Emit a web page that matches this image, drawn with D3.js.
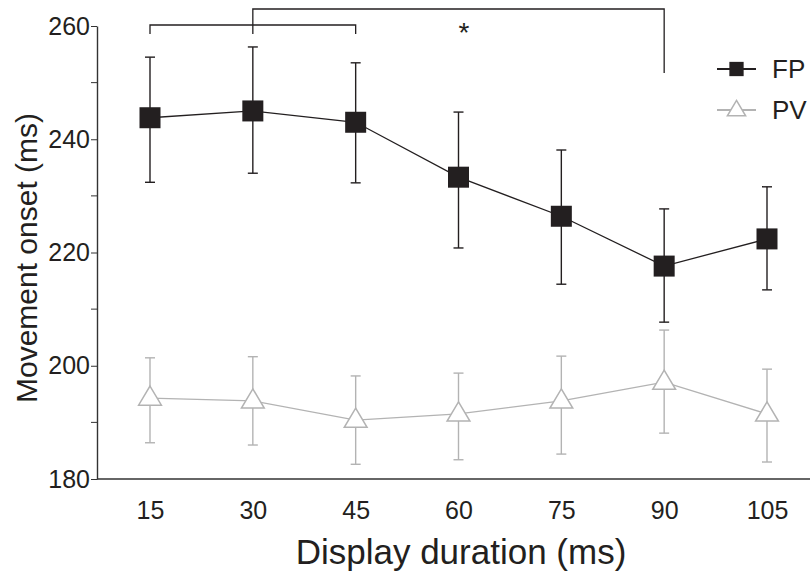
<!DOCTYPE html>
<html><head><meta charset="utf-8">
<script src="https://cdn.jsdelivr.net/npm/d3@7"></script>
<style>body{margin:0;background:#fff}svg{display:block}text{font-family:"Liberation Sans",Arial,sans-serif;fill:#231f20}</style>
</head><body>
<svg id="c" width="810" height="573"></svg>
<script>
const durations = [15, 30, 45, 60, 75, 90, 105];
const fpMean = [243.8, 245.0, 243.0, 233.3, 226.4, 217.6, 222.4];
const fpUpper = [254.5, 256.3, 253.5, 244.8, 238.1, 227.7, 231.6];
const fpLower = [232.4, 234.0, 232.3, 220.8, 214.4, 207.7, 213.4];
const pvMean = [194.3, 193.8, 190.4, 191.5, 193.8, 197.1, 191.5];
const pvUpper = [201.4, 201.6, 198.2, 198.7, 201.7, 206.3, 199.4];
const pvLower = [186.4, 186.0, 182.6, 183.4, 184.4, 188.1, 183.0];
const yTicks = [180, 200, 220, 240, 260];
const yMinorTicks = [190, 210, 230, 250];
const seriesNames = ["FP", "PV"];
const brackets = [[15, 45], [30, 90]];

const svg = d3.select("#c");
const x = d3.scaleLinear().domain([15, 105]).range([150, 767]);
const y = d3.scaleLinear().domain([180, 260]).range([479, 26]);
const black = "#231f20", grey = "#b3b3b3";

// axes
const yAxis = d3.axisLeft(y).tickValues(yTicks).tickSize(6).tickPadding(1).tickSizeOuter(0);
const gy = svg.append("g").attr("transform", "translate(97,0)").call(yAxis);
gy.select(".domain").attr("stroke", "#333").attr("stroke-width", 1.4);
gy.selectAll(".tick line").attr("stroke", "#333");
gy.selectAll(".tick text").style("font-size", "25px").attr("fill", black);
gy.selectAll(".minor").data(yMinorTicks).enter().append("line")
  .attr("x1", -6).attr("x2", 0).attr("y1", d => y(d)).attr("y2", d => y(d)).attr("stroke", "#333");

const xAxis = d3.axisBottom(x).tickValues(durations).tickSize(0).tickPadding(22).tickSizeOuter(0);
const gx = svg.append("g").attr("transform", "translate(0,479)").call(xAxis);
gx.select(".domain").attr("d", "M97,0H810").attr("stroke", "#333").attr("stroke-width", 1.4);
gx.selectAll(".tick text").style("font-size", "25px").attr("fill", black);

svg.append("text").attr("x", 461).attr("y", 564).attr("text-anchor", "middle")
  .style("font-size", "35px").text("Display duration (ms)");
svg.append("text").attr("transform", "translate(37,258) rotate(-90)").attr("text-anchor", "middle")
  .style("font-size", "30px").text("Movement onset (ms)");

function drawSeries(mean, up, lo, color, shape) {
  const g = svg.append("g");
  durations.forEach((d, i) => {
    g.append("line").attr("x1", x(d)).attr("x2", x(d)).attr("y1", y(up[i])).attr("y2", y(lo[i])).attr("stroke", color).attr("stroke-width", 1.4);
    [up[i], lo[i]].forEach(v => g.append("line").attr("x1", x(d) - 5).attr("x2", x(d) + 5).attr("y1", y(v)).attr("y2", y(v)).attr("stroke", color).attr("stroke-width", 1.4));
  });
  const line = d3.line().x((d, i) => x(durations[i])).y(d => y(d));
  g.append("path").datum(mean).attr("d", line).attr("fill", "none").attr("stroke", color).attr("stroke-width", 1.3);
  mean.forEach((v, i) => drawMarker(g, x(durations[i]), y(v), color, shape, 1));
}
function drawMarker(g, cx, cy, color, shape, s) {
  if (shape === "square") {
    g.append("rect").attr("x", cx - 10.5 * s).attr("y", cy - 10.5 * s).attr("width", 21 * s).attr("height", 21 * s).attr("fill", color);
  } else {
    const r = 12 * s;
    g.append("path").attr("d", `M${cx},${cy - r}L${cx + r * 0.95},${cy + r * 0.6}L${cx - r * 0.95},${cy + r * 0.6}Z`)
      .attr("fill", "#fff").attr("stroke", color).attr("stroke-width", 1.5);
  }
}
drawSeries(pvMean, pvUpper, pvLower, grey, "triangle");
drawSeries(fpMean, fpUpper, fpLower, black, "square");

// significance brackets
const b1 = brackets[0], b2 = brackets[1];
svg.append("path").attr("d", `M${x(b1[0])},34V25H${x(b1[1])}V34`).attr("fill", "none").attr("stroke", black).attr("stroke-width", 1.3);
svg.append("path").attr("d", `M${x(b2[0])},34V9H${x(b2[1])}V73`).attr("fill", "none").attr("stroke", black).attr("stroke-width", 1.3);
svg.append("text").attr("x", 464).attr("y", 42).attr("text-anchor", "middle").style("font-size", "28px").text("*");

// legend
const leg = svg.append("g");
[[69, black, "square"], [110, grey, "triangle"]].forEach((r, i) => {
  leg.append("line").attr("x1", 717).attr("x2", 756).attr("y1", r[0]).attr("y2", r[0]).attr("stroke", r[1]).attr("stroke-width", 1.8);
  drawMarker(leg, 736.5, r[0], r[1], r[2], r[2] === "square" ? 0.68 : 0.8);
  leg.append("text").attr("x", 772).attr("y", r[0] + 9).style("font-size", "26px").text(seriesNames[i]);
});
</script>
</body></html>
